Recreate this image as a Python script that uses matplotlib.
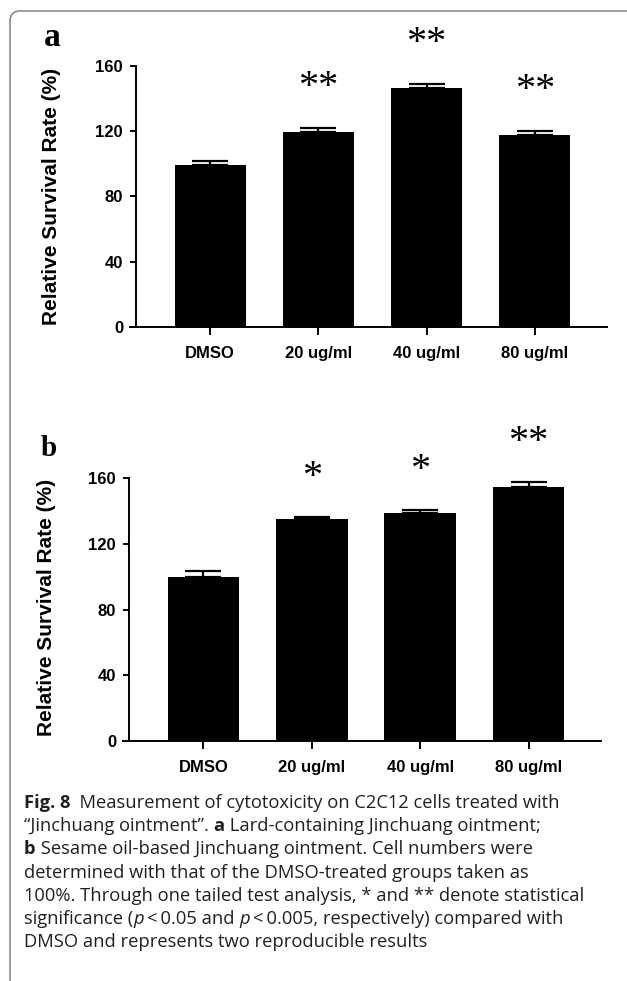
import matplotlib
matplotlib.use("Agg")
import matplotlib.pyplot as plt
import matplotlib.transforms as mtransforms
import numpy as np
from matplotlib.patches import FancyBboxPatch

# --- data ---
groups = ["DMSO", "20 ug/ml", "40 ug/ml", "80 ug/ml"]

vals_a = [99.5, 119.5, 146.5, 117.5]
err_a = [2.0, 2.5, 2.5, 2.5]
stars_a = ["", "**", "**", "**"]

vals_b = [99.5, 135.0, 138.5, 154.5]
err_b = [4.0, 1.5, 2.0, 3.0]
stars_b = ["", "*", "*", "**"]

yticks = [0, 40, 80, 120, 160]

# caption: (text, style) pieces per line; style n=normal, b=bold, i=italic
caption = [
    [("Fig. 8", "b"), ("  Measurement of cytotoxicity on C2C12 cells treated with", "n")],
    [("“Jinchuang ointment”. ", "n"), ("a", "b"), (" Lard-containing Jinchuang ointment;", "n")],
    [("b", "b"), (" Sesame oil-based Jinchuang ointment. Cell numbers were", "n")],
    [("determined with that of the DMSO-treated groups taken as", "n")],
    [("100%. Through one tailed test analysis, * and ** denote statistical", "n")],
    [("significance (", "n"), ("p", "i"), ("\u2009<\u20090.05 and ", "n"), ("p", "i"),
     ("\u2009<\u20090.005, respectively) compared with", "n")],
    [("DMSO and represents two reproducible results", "n")],
]

W, H = 627, 981
fig = plt.figure(figsize=(W / 100, H / 100), dpi=100)
TICKFONT = "Liberation Sans"
CAPFONT = ["Open Sans", "DejaVu Sans"]


def panel(rect, vals, errs, stars, star_off, letter, letter_xy, letter_size, ylab_xy):
    left, top, width, bottom = rect
    ax = fig.add_axes([left / W, 1 - bottom / H, width / W, (bottom - top) / H])
    x = np.arange(len(groups))
    ax.bar(x, vals, width=0.66, color="black", zorder=2)
    ax.errorbar(x, vals, yerr=[np.zeros(len(vals)), errs], fmt="none",
                ecolor="black", elinewidth=1.6, capsize=13, capthick=1.6, zorder=1)
    ax.set_xlim(-0.742, 3.668)
    ax.set_ylim(0, 160)
    for s in ["top", "right"]:
        ax.spines[s].set_visible(False)
    ax.spines["left"].set_position(("data", -0.684))
    ax.spines["left"].set_linewidth(1.4)
    ax.spines["bottom"].set_linewidth(1.4)
    ax.set_yticks(yticks)
    ax.set_xticks(x)
    ax.set_xticklabels(groups)
    ax.tick_params(axis="y", length=4.5, width=1.4, pad=5, labelsize=12)
    ax.tick_params(axis="x", length=5.8, width=1.4, pad=8, labelsize=12)
    for lab in ax.get_xticklabels() + ax.get_yticklabels():
        lab.set_family(TICKFONT)
        lab.set_weight("bold")
    for xi, v, e, s in zip(x, vals, errs, stars):
        if s:
            ax.text(xi, v + e + star_off, s, ha="center", va="center",
                    fontsize=29, family="Liberation Serif",
                    clip_on=False)
    fig.text(letter_xy[0] / W, 1 - letter_xy[1] / H, letter, ha="center", va="center",
             fontsize=letter_size, family="Liberation Serif", weight="bold")
    fig.text(ylab_xy[0] / W, 1 - ylab_xy[1] / H, "Relative Survival Rate (%)",
             rotation=90, ha="center", va="center", fontsize=15,
             family="Liberation Sans", weight="bold")
    return ax


panel((130, 66, 477, 327), vals_a, err_a, stars_a, 25.0, "a", (52, 37), 24, (52, 196))
panel((123, 478, 478, 741), vals_b, err_b, stars_b, 24.0, "b", (49, 448), 21, (47, 607))

# caption, drawn piece by piece so bold / italic parts sit inline
renderer = fig.canvas.get_renderer()
for i, pieces in enumerate(caption):
    xpix = 24.0
    ypix = 803 + 23.2 * i
    for txt, st in pieces:
        t = fig.text(xpix / W, 1 - ypix / H, txt, ha="left", va="center",
                     fontsize=13.2, family=CAPFONT, color="#231f20",
                     weight="bold" if st == "b" else "normal",
                     style="italic" if st == "i" else "normal")
        bb = t.get_window_extent(renderer)
        xpix = bb.x1

# rounded frame, only the top-left corner is inside the picture
frame = FancyBboxPatch((10, -30), 660, H - 11 + 30,
                       boxstyle="round,pad=0,rounding_size=10",
                       facecolor="none", edgecolor="#808080", linewidth=1.1)
frame.set_transform(mtransforms.IdentityTransform())
fig.patches.append(frame)

fig.savefig("out.png", dpi=100)
